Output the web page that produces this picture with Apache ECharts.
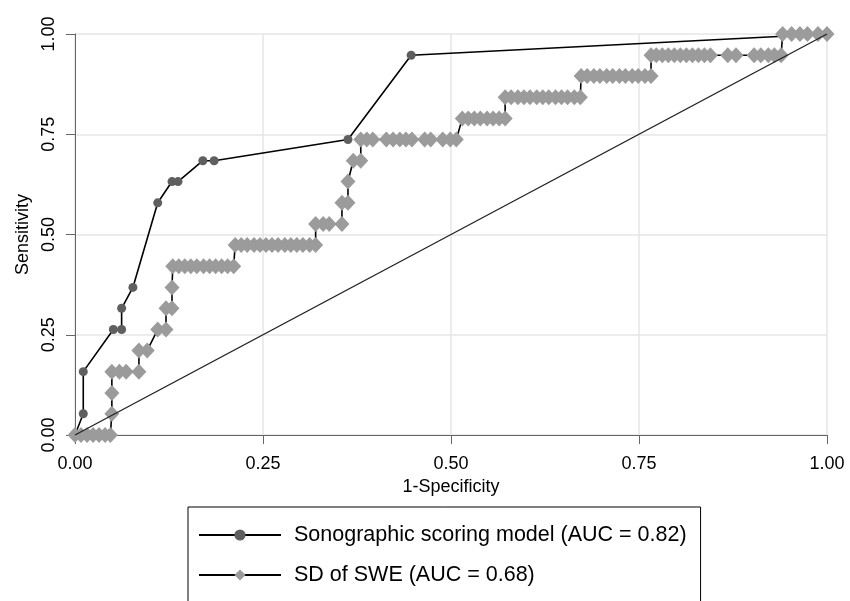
<!DOCTYPE html>
<html>
<head>
<meta charset="utf-8">
<script src="https://cdn.jsdelivr.net/npm/echarts@6/dist/echarts.min.js"></script>
<style>html,body{margin:0;padding:0;background:#fff;}#c{width:850px;height:601px;}</style>
</head>
<body>
<div id="c"></div>
<script>
// Sonographic scoring model ROC points
const scoringX = [0, 0.011, 0.011, 0.051, 0.062, 0.062, 0.077, 0.110, 0.129, 0.137, 0.170, 0.185, 0.363, 0.447, 1.0];
const scoringY = [0, 0.053, 0.158, 0.263, 0.263, 0.316, 0.368, 0.579, 0.632, 0.632, 0.684, 0.684, 0.737, 0.947, 1.0];

// SD of SWE ROC points
const sweX = [
  0, 0.008, 0.016, 0.024, 0.032, 0.040, 0.047,
  0.049, 0.049,
  0.049, 0.059, 0.068, 0.085,
  0.085, 0.096,
  0.110, 0.121,
  0.121, 0.129,
  0.129,
  0.130, 0.138, 0.146, 0.154, 0.162, 0.171, 0.179, 0.187, 0.195, 0.203, 0.211,
  0.213, 0.221, 0.229, 0.238, 0.246, 0.254, 0.262, 0.270, 0.279, 0.287, 0.295, 0.303, 0.312, 0.320,
  0.320, 0.330, 0.338, 0.355,
  0.355, 0.363,
  0.363,
  0.370, 0.380,
  0.380, 0.388, 0.396, 0.414, 0.423, 0.432, 0.440, 0.448, 0.465, 0.473, 0.489, 0.499, 0.507,
  0.515, 0.523, 0.531, 0.539, 0.548, 0.556, 0.564, 0.572,
  0.572, 0.580, 0.589, 0.597, 0.605, 0.614, 0.622, 0.630, 0.639, 0.647, 0.655, 0.664, 0.672,
  0.673, 0.681, 0.690, 0.698, 0.707, 0.715, 0.724, 0.732, 0.741, 0.749, 0.758, 0.766,
  0.766, 0.773, 0.781, 0.789, 0.797, 0.805, 0.813, 0.821, 0.829, 0.837, 0.845, 0.868, 0.879, 0.903, 0.912, 0.922, 0.930, 0.939,
  0.941, 0.953, 0.964, 0.974, 0.988, 1.0
];
const sweY = [
  0, 0, 0, 0, 0, 0, 0,
  0.053, 0.105,
  0.158, 0.158, 0.158, 0.158,
  0.211, 0.211,
  0.263, 0.263,
  0.316, 0.316,
  0.368,
  0.421, 0.421, 0.421, 0.421, 0.421, 0.421, 0.421, 0.421, 0.421, 0.421, 0.421,
  0.474, 0.474, 0.474, 0.474, 0.474, 0.474, 0.474, 0.474, 0.474, 0.474, 0.474, 0.474, 0.474, 0.474,
  0.526, 0.526, 0.526, 0.526,
  0.579, 0.579,
  0.632,
  0.684, 0.684,
  0.737, 0.737, 0.737, 0.737, 0.737, 0.737, 0.737, 0.737, 0.737, 0.737, 0.737, 0.737, 0.737,
  0.789, 0.789, 0.789, 0.789, 0.789, 0.789, 0.789, 0.789,
  0.842, 0.842, 0.842, 0.842, 0.842, 0.842, 0.842, 0.842, 0.842, 0.842, 0.842, 0.842, 0.842,
  0.895, 0.895, 0.895, 0.895, 0.895, 0.895, 0.895, 0.895, 0.895, 0.895, 0.895, 0.895,
  0.947, 0.947, 0.947, 0.947, 0.947, 0.947, 0.947, 0.947, 0.947, 0.947, 0.947, 0.947, 0.947, 0.947, 0.947, 0.947, 0.947, 0.947,
  1.0, 1.0, 1.0, 1.0, 1.0, 1.0
];

// Reference (chance) line
const refX = [0, 1];
const refY = [0, 1];

const ticks = [0, 0.25, 0.5, 0.75, 1.0];
const seriesNames = ['Sonographic scoring model (AUC = 0.82)', 'SD of SWE (AUC = 0.68)'];
const xTitle = '1-Specificity';
const yTitle = 'Sensitivity';

const zip = (xs, ys) => xs.map((x, i) => [x, ys[i]]);
const FONT = "'Liberation Sans', Arial, sans-serif";

const chart = echarts.init(document.getElementById('c'), null, {renderer: 'canvas'});
chart.setOption({
  animation: false,
  backgroundColor: '#fff',
  textStyle: {fontFamily: FONT},
  grid: {left: 75, right: 23, top: 34, bottom: 166, containLabel: false},
  xAxis: {
    type: 'value', min: 0, max: 1, interval: 0.25,
    name: xTitle, nameLocation: 'middle', nameGap: 40,
    nameTextStyle: {fontSize: 18, color: '#000', fontFamily: FONT},
    axisLine: {show: true, onZero: false, lineStyle: {color: '#666', width: 1}},
    axisTick: {show: true, length: 9, lineStyle: {color: '#666'}},
    axisLabel: {fontSize: 18, color: '#000', margin: 20, fontFamily: FONT,
      formatter: v => v.toFixed(2)},
    splitLine: {show: true, lineStyle: {color: '#e6e6e6', width: 1.5}}
  },
  yAxis: {
    type: 'value', min: 0, max: 1, interval: 0.25,
    name: yTitle, nameLocation: 'middle', nameGap: 42, nameRotate: 90,
    nameTextStyle: {fontSize: 18, color: '#000', fontFamily: FONT},
    axisLine: {show: true, onZero: false, lineStyle: {color: '#666', width: 1}},
    axisTick: {show: true, length: 9, lineStyle: {color: '#666'}},
    axisLabel: {fontSize: 18, color: '#000', margin: 17, rotate: 90, fontFamily: FONT,
      formatter: v => v.toFixed(2)},
    splitLine: {show: true, lineStyle: {color: '#e6e6e6', width: 1.5}}
  },
  legend: {
    data: seriesNames,
    orient: 'vertical',
    left: 188, top: 507, height: 200, width: 600,
    itemWidth: 82, itemHeight: 14, itemGap: 18,
    padding: [17, 14, 30, 10],
    borderColor: '#000', borderWidth: 1, borderRadius: 0,
    textStyle: {fontSize: 21.5, color: '#000', fontFamily: FONT, padding: [0, 0, 0, 8]}
  },
  series: [
    {
      name: seriesNames[0], type: 'line', data: zip(scoringX, scoringY),
      symbol: 'circle', symbolSize: 9, showSymbol: true, showAllSymbol: true,
      clip: false, z: 2,
      lineStyle: {color: '#000', width: 1.6},
      itemStyle: {color: '#5f5f5f', borderWidth: 0}
    },
    {
      name: seriesNames[1], type: 'line', data: zip(sweX, sweY),
      symbol: 'diamond', symbolSize: [15, 16], showSymbol: true, showAllSymbol: true,
      clip: false, z: 3,
      lineStyle: {color: '#000', width: 1.6},
      itemStyle: {color: '#9b9b9b', borderWidth: 0}
    },
    {
      name: 'ref', type: 'line', data: zip(refX, refY),
      symbol: 'none', clip: false, z: 4,
      lineStyle: {color: '#222', width: 1.4}
    }
  ]
});
</script>
</body>
</html>
